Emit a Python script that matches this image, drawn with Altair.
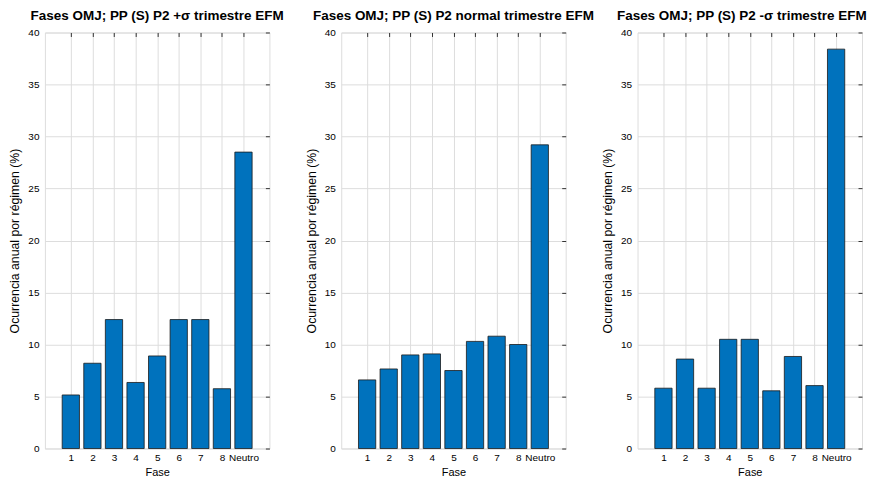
import altair as alt
import pandas as pd

cats = ["1", "2", "3", "4", "5", "6", "7", "8", "Neutro"]
positions = [1, 2, 3, 4, 5, 6, 7, 8, 9]
p_plus = [5.15, 8.2, 12.4, 6.35, 8.9, 12.4, 12.4, 5.75, 28.5]
p_norm = [6.6, 7.65, 9.0, 9.1, 7.5, 10.3, 10.8, 10.0, 29.2]
p_minus = [5.8, 8.6, 5.8, 10.5, 10.5, 5.55, 8.85, 6.05, 38.4]
titles = [
    "Fases OMJ; PP (S) P2 +σ trimestre EFM",
    "Fases OMJ; PP (S) P2 normal trimestre EFM",
    "Fases OMJ; PP (S) P2 -σ trimestre EFM",
]
title_dx = [0, 0, -8]
y_ticks = [0, 5, 10, 15, 20, 25, 30, 35, 40]

FONT = "Liberation Sans"
label_expr = "[" + ",".join("'%s'" % c for c in cats) + "][datum.value - 1]"


def panel(vals, title, dx):
    df = pd.DataFrame({"fase": cats, "pos": positions, "val": vals})
    base = alt.Chart(df).transform_calculate(
        x0="datum.pos - 0.4", x1="datum.pos + 0.4", base0="0"
    )
    xs = alt.Scale(domain=[-0.2, 10.2], nice=False, zero=False)
    ys = alt.Scale(domain=[0, 40], nice=False)
    bars = base.mark_bar(
        color="#0072BD", stroke="#1a1a1a", strokeWidth=0.8
    ).encode(
        x=alt.X(
            "x0:Q",
            scale=xs,
            axis=alt.Axis(
                values=positions,
                labelExpr=label_expr,
                title="Fase",
                grid=True,
                ticks=False,
                domain=False,
                labelPadding=4,
                titlePadding=4,
                titleFontWeight="normal",
            ),
        ),
        x2="x1:Q",
        y=alt.Y(
            "val:Q",
            scale=ys,
            axis=alt.Axis(
                values=y_ticks,
                title="Ocurrencia anual por régimen (%)",
                grid=True,
                ticks=False,
                domain=False,
                labelPadding=6,
                titlePadding=6,
                titleFontWeight="normal",
                titleFontSize=12.3,
            ),
        ),
        y2="base0:Q",
        tooltip=["fase:N", "val:Q"],
    )
    tick_layer = base.mark_bar(opacity=0).encode(
        x=alt.X(
            "x0:Q",
            scale=xs,
            axis=alt.Axis(
                orient="top",
                values=positions,
                labels=False,
                title="",
                grid=False,
                domain=False,
                tickSize=4,
                offset=-4,
                tickColor="#333333",
            ),
        ),
        x2="x1:Q",
        y=alt.Y(
            "val:Q",
            scale=ys,
            axis=alt.Axis(
                orient="right",
                values=y_ticks,
                labels=False,
                title="",
                grid=False,
                domain=False,
                tickSize=4,
                offset=-4,
                tickColor="#333333",
            ),
        ),
        y2="base0:Q",
    )
    return (
        alt.layer(bars, tick_layer)
        .resolve_axis(x="independent", y="independent")
        .properties(
            width=225,
            height=417,
            title=alt.TitleParams(
                text=title,
                fontSize=13.5,
                fontWeight="bold",
                color="#000000",
                font=FONT,
                offset=5,
                anchor="middle",
                dx=dx,
            ),
        )
    )


chart = (
    alt.hconcat(
        *[panel(v, t, d) for v, t, d in zip([p_plus, p_norm, p_minus], titles, title_dx)],
        spacing=72,
        bounds="flush",
    )
    .properties(padding={"left": 0, "top": 0, "right": 0, "bottom": 0})
    .configure_view(stroke="#7a7a7a", strokeWidth=1)
    .configure_axis(
        labelFont=FONT,
        titleFont=FONT,
        labelFontSize=10.5,
        titleFontSize=11.5,
        labelColor="#404040",
        titleColor="#262626",
        titleFontWeight="normal",
        gridColor="#e3e3e3",
        gridWidth=1,
    )
    .configure(background="white")
)

chart.save("out.html", embed_options={"renderer": "svg", "actions": False})
